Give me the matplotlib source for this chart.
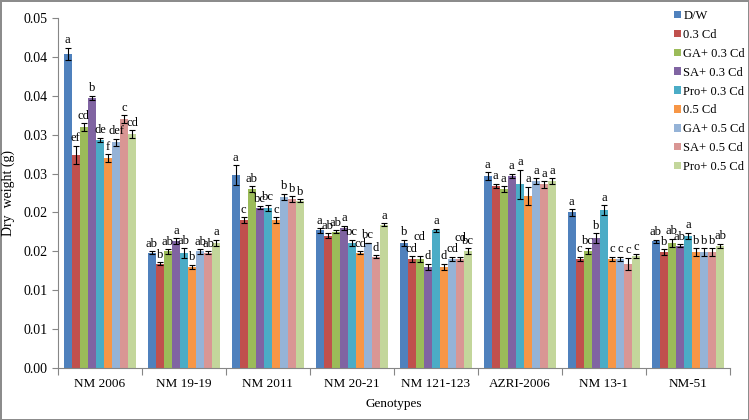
import numpy as np
import matplotlib
matplotlib.use('Agg')
import matplotlib.pyplot as plt

plt.rcParams['font.family'] = ['Liberation Serif', 'DejaVu Serif']

# Genotypes on the x axis
genotypes = ['NM 2006', 'NM 19-19', 'NM 2011', 'NM 20-21', 'NM 121-123',
             'AZRI-2006', 'NM 13-1', 'NM-51']

treatments = ['D/W', '0.3 Cd', 'GA+ 0.3 Cd', 'SA+ 0.3 Cd', 'Pro+ 0.3 Cd',
              '0.5 Cd', 'GA+ 0.5 Cd', 'SA+ 0.5 Cd', 'Pro+ 0.5 Cd']

# dry weight (g), one list per treatment, in genotype order
dw        = [0.0404, 0.0148, 0.0248, 0.0177, 0.0161, 0.0247, 0.0200, 0.0163]
cd03      = [0.0274, 0.0134, 0.0190, 0.0170, 0.0140, 0.0234, 0.0140, 0.0149]
ga_cd03   = [0.0310, 0.0150, 0.0230, 0.0175, 0.0140, 0.0230, 0.0150, 0.0161]
sa_cd03   = [0.0347, 0.0163, 0.0206, 0.0180, 0.0130, 0.0247, 0.0167, 0.0157]
pro_cd03  = [0.0293, 0.0148, 0.0206, 0.0161, 0.0177, 0.0236, 0.0203, 0.0170]
cd05      = [0.0270, 0.0130, 0.0190, 0.0148, 0.0130, 0.0221, 0.0140, 0.0149]
ga_cd05   = [0.0290, 0.0150, 0.0220, 0.0161, 0.0140, 0.0240, 0.0140, 0.0149]
sa_cd05   = [0.0320, 0.0148, 0.0217, 0.0143, 0.0140, 0.0236, 0.0134, 0.0149]
pro_cd05  = [0.0301, 0.0161, 0.0215, 0.0184, 0.0150, 0.0240, 0.0144, 0.0157]

# standard errors
dw_err       = [0.0008, 0.0002, 0.0013, 0.0003, 0.0004, 0.0005, 0.0004, 0.0002]
cd03_err     = [0.0012, 0.0002, 0.0004, 0.0003, 0.0004, 0.0003, 0.0003, 0.0004]
ga_cd03_err  = [0.0005, 0.0003, 0.0004, 0.0002, 0.0004, 0.0004, 0.0004, 0.0005]
sa_cd03_err  = [0.0003, 0.0004, 0.0002, 0.0003, 0.0004, 0.0003, 0.0006, 0.0002]
pro_cd03_err = [0.0003, 0.0006, 0.0004, 0.0004, 0.0002, 0.0019, 0.0006, 0.0004]
cd05_err     = [0.0005, 0.0003, 0.0004, 0.0002, 0.0004, 0.0012, 0.0003, 0.0005]
ga_cd05_err  = [0.0005, 0.0003, 0.0004, 0.0000, 0.0003, 0.0004, 0.0003, 0.0005]
sa_cd05_err  = [0.0005, 0.0002, 0.0004, 0.0002, 0.0003, 0.0004, 0.0008, 0.0005]
pro_cd05_err = [0.0005, 0.0004, 0.0002, 0.0002, 0.0004, 0.0004, 0.0002, 0.0003]

# significance letters
dw_let       = ['a', 'ab', 'a', 'a', 'b', 'a', 'a', 'ab']
cd03_let     = ['ef', 'b', 'c', 'ab', 'cd', 'a', 'c', 'b']
ga_cd03_let  = ['cd', 'ab', 'ab', 'ab', 'cd', 'a', 'bc', 'ab']
sa_cd03_let  = ['b', 'a', 'bc', 'a', 'd', 'a', 'b', 'ab']
pro_cd03_let = ['de', 'ab', 'bc', 'bc', 'a', 'a', 'a', 'a']
cd05_let     = ['f', 'b', 'c', 'cd', 'd', 'a', 'c', 'b']
ga_cd05_let  = ['def', 'ab', 'b', 'bc', 'cd', 'a', 'c', 'b']
sa_cd05_let  = ['c', 'ab', 'b', 'd', 'cd', 'a', 'c', 'b']
pro_cd05_let = ['cd', 'a', 'b', 'a', 'bc', 'a', 'c', 'ab']

ytick_labels = ['0.00', '0.01', '0.01', '0.02', '0.02', '0.03', '0.03',
                '0.04', '0.04', '0.05']

values = [dw, cd03, ga_cd03, sa_cd03, pro_cd03, cd05, ga_cd05, sa_cd05, pro_cd05]
errors = [dw_err, cd03_err, ga_cd03_err, sa_cd03_err, pro_cd03_err,
          cd05_err, ga_cd05_err, sa_cd05_err, pro_cd05_err]
letters = [dw_let, cd03_let, ga_cd03_let, sa_cd03_let, pro_cd03_let,
           cd05_let, ga_cd05_let, sa_cd05_let, pro_cd05_let]

colors = ['#4F81BD', '#C0504D', '#9BBB59', '#8064A2', '#4BACC6',
          '#F79646', '#95B3D7', '#D99694', '#C3D69B']

# labels lifted a bit (points) so neighbours don't collide, like the original
nudge = {(2, 4): 8, (7, 4): 8}

fig = plt.figure(figsize=(7.49, 4.20), dpi=100)
fig.patch.set_edgecolor('#8c8c8c')
fig.patch.set_linewidth(2)
ax = fig.add_axes([0.0774, 0.124, 0.897, 0.833])

x = np.arange(len(genotypes))
width = 0.096
handles = []
for i, (vals, errs, lets, col) in enumerate(zip(values, errors, letters, colors)):
    pos = x + (i - 4) * width
    b = ax.bar(pos, vals, width, color=col, label=treatments[i], zorder=2)
    handles.append(b)
    ax.errorbar(pos, vals, yerr=errs, fmt='none', ecolor='black',
                elinewidth=0.8, capsize=2.5, capthick=0.8, zorder=3)
    for j, (p, v, e, t) in enumerate(zip(pos, vals, errs, lets)):
        ax.annotate(t, (p, v + e), xytext=(0, 1 + nudge.get((i, j), 0)),
                    textcoords='offset points', ha='center', va='bottom',
                    fontsize=9)

ax.set_xlim(-0.5, len(genotypes) - 0.5)
ax.set_ylim(0, 0.045)
ax.set_yticks(np.arange(10) * 0.005)
ax.set_yticklabels(ytick_labels, fontsize=10)

ax.set_xticks(np.arange(len(genotypes) + 1) - 0.5)
ax.set_xticklabels([])
ax.set_xticks(x, minor=True)
ax.set_xticklabels(genotypes, minor=True, fontsize=9.5)
ax.tick_params(axis='x', which='major', length=5, color='#868686')
ax.tick_params(axis='x', which='minor', length=0, pad=7)
ax.tick_params(axis='y', length=4, color='#868686')

for s in ['top', 'right']:
    ax.spines[s].set_visible(False)
for s in ['left', 'bottom']:
    ax.spines[s].set_color('#868686')

ax.set_ylabel('Dry  weight (g)', fontsize=10, labelpad=6)
ax.set_xlabel('Genotypes', fontsize=9.5, labelpad=6)

fig.legend(handles=handles, loc='upper left', bbox_to_anchor=(0.888, 0.997),
           frameon=False, fontsize=9, handlelength=0.55, handleheight=0.55,
           handletextpad=0.2, labelspacing=0.55, borderaxespad=0.3)

fig.savefig('out.png', dpi=100)
